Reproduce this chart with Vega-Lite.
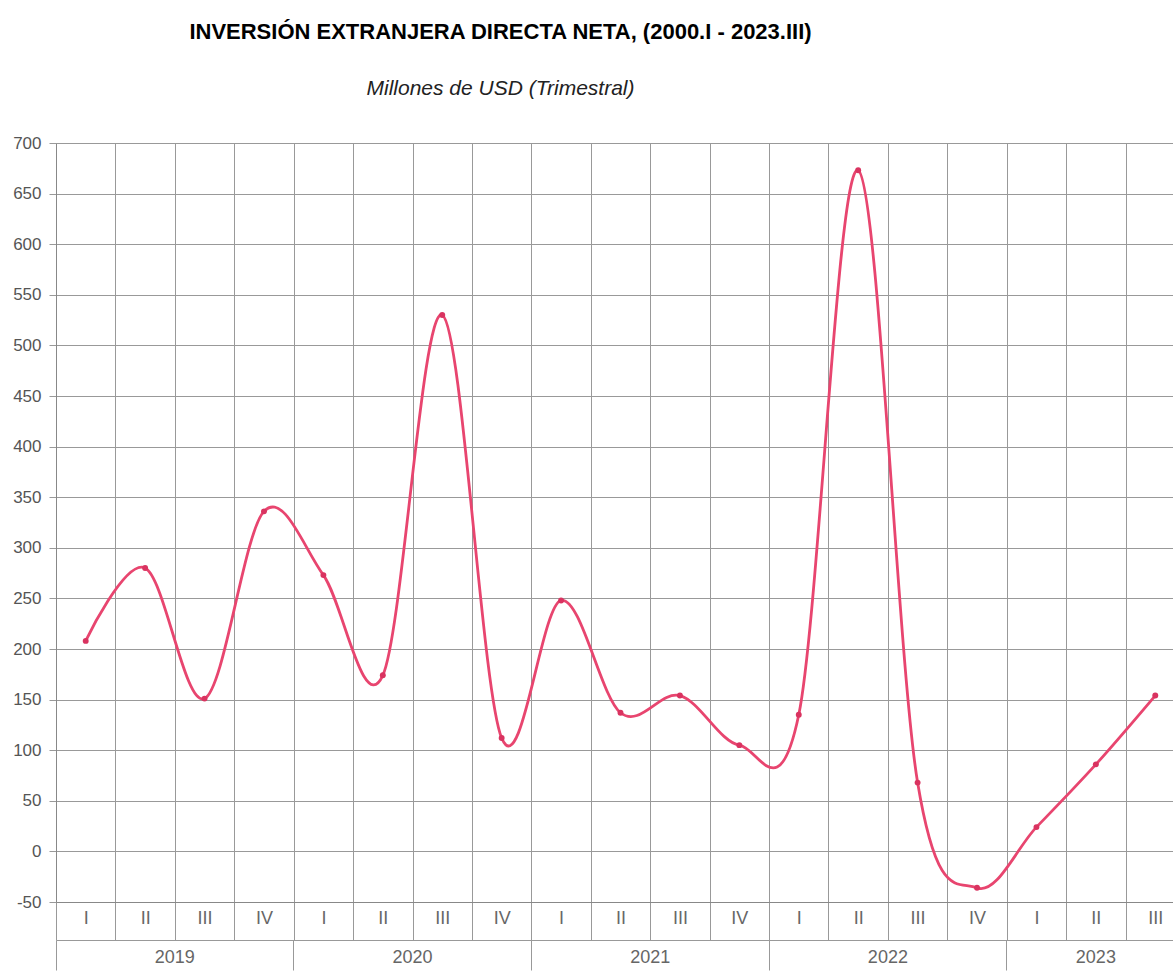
{
  "$schema": "https://vega.github.io/schema/vega-lite/v6.json",
  "width": 1129,
  "height": 759,
  "padding": {"left": 12, "top": 21, "right": 0, "bottom": 0},
  "background": "white",
  "config": {"view": {"stroke": null}, "font": "Liberation Sans"},
  "title": {
    "text": "INVERSIÓN EXTRANJERA DIRECTA NETA, (2000.I - 2023.III)",
    "subtitle": "Millones de USD (Trimestral)",
    "font": "Liberation Sans",
    "fontSize": 22,
    "fontWeight": "bold",
    "color": "#000000",
    "subtitleFont": "Liberation Sans",
    "subtitleFontSize": 21,
    "subtitleFontStyle": "italic",
    "subtitleColor": "#222222",
    "subtitlePadding": 34,
    "offset": 34,
    "anchor": "middle",
    "frame": "group",
    "dx": -120
  },
  "data": {
    "values": [
      {"t": "2019-I", "v": 208},
      {"t": "2019-II", "v": 280},
      {"t": "2019-III", "v": 151},
      {"t": "2019-IV", "v": 336},
      {"t": "2020-I", "v": 273},
      {"t": "2020-II", "v": 174},
      {"t": "2020-III", "v": 530},
      {"t": "2020-IV", "v": 112},
      {"t": "2021-I", "v": 248},
      {"t": "2021-II", "v": 137},
      {"t": "2021-III", "v": 154},
      {"t": "2021-IV", "v": 105},
      {"t": "2022-I", "v": 135},
      {"t": "2022-II", "v": 673},
      {"t": "2022-III", "v": 68},
      {"t": "2022-IV", "v": -36},
      {"t": "2023-I", "v": 24},
      {"t": "2023-II", "v": 86},
      {"t": "2023-III", "v": 154}
    ]
  },
  "resolve": {"axis": {"x": "independent"}},
  "layer": [
    {
      "mark": {"type": "line", "interpolate": "cardinal", "color": "#e8456f", "strokeWidth": 2.8},
      "encoding": {
        "x": {
          "field": "t", "type": "ordinal", "sort": null,
          "scale": {"type": "band", "paddingInner": 0, "paddingOuter": 0},
          "axis": {
            "orient": "bottom", "tickBand": "extent", "tickSize": 38, "tickColor": "#999999",
            "grid": true, "gridColor": "#999999", "domainColor": "#888888",
            "labelExpr": "split(datum.value, '-')[1]",
            "labelFont": "Liberation Sans", "labelFontSize": 18, "labelColor": "#666666",
            "labelPadding": -31, "labelBaseline": "top", "labelAngle": 0, "labelOverlap": false,
            "title": null
          }
        },
        "y": {
          "field": "v", "type": "quantitative",
          "scale": {"domain": [-50, 700], "nice": false, "zero": false},
          "axis": {
            "values": [-50, 0, 50, 100, 150, 200, 250, 300, 350, 400, 450, 500, 550, 600, 650, 700],
            "labelExpr": "'' + datum.value",
            "grid": true, "gridColor": "#999999", "tickSize": 7, "tickColor": "#999999",
            "domainColor": "#888888", "labelFont": "Liberation Sans", "labelFontSize": 17,
            "labelColor": "#555555", "labelPadding": 8, "title": null
          }
        }
      }
    },
    {
      "mark": {"type": "point", "filled": true, "size": 35, "color": "#d93360", "opacity": 1},
      "encoding": {
        "x": {"field": "t", "type": "ordinal", "sort": null, "axis": null},
        "y": {"field": "v", "type": "quantitative"}
      }
    },
    {
      "mark": {"type": "rule", "opacity": 0},
      "encoding": {
        "x": {
          "field": "t", "type": "ordinal", "sort": null,
          "axis": {
            "orient": "bottom", "offset": 38,
            "values": ["2019-I", "2020-I", "2021-I", "2022-I", "2023-I"],
            "bandPosition": 0, "tickSize": 30, "tickColor": "#999999",
            "labels": false, "grid": false, "domain": true, "domainColor": "#999999", "title": null
          }
        }
      }
    },
    {
      "mark": {"type": "rule", "opacity": 0},
      "encoding": {
        "x": {
          "field": "t", "type": "ordinal", "sort": null,
          "axis": {
            "orient": "bottom", "offset": 38,
            "values": ["2019-II", "2020-II", "2021-II", "2022-II"],
            "ticks": false, "domain": false, "grid": false,
            "labelExpr": "split(datum.value, '-')[0]", "labelOffset": 29.7,
            "labelFont": "Liberation Sans", "labelFontSize": 18, "labelColor": "#666666",
            "labelPadding": 8, "labelBaseline": "top", "labelAngle": 0, "labelOverlap": false, "title": null
          }
        }
      }
    },
    {
      "mark": {"type": "rule", "opacity": 0},
      "encoding": {
        "x": {
          "field": "t", "type": "ordinal", "sort": null,
          "axis": {
            "orient": "bottom", "offset": 38,
            "values": ["2023-II"],
            "ticks": false, "domain": false, "grid": false,
            "labelExpr": "split(datum.value, '-')[0]",
            "labelFont": "Liberation Sans", "labelFontSize": 18, "labelColor": "#666666",
            "labelPadding": 8, "labelBaseline": "top", "labelAngle": 0, "labelOverlap": false, "title": null
          }
        }
      }
    }
  ]
}
